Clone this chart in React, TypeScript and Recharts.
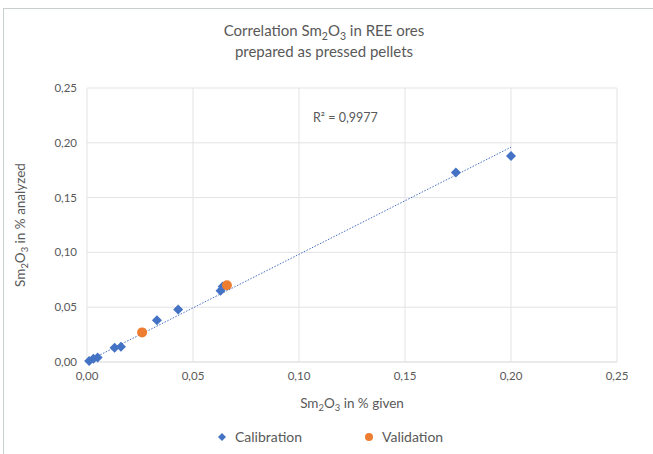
import { CartesianGrid, Scatter, ScatterChart, XAxis, YAxis } from 'recharts';

const calibX = [0.001, 0.003, 0.005, 0.013, 0.016, 0.033, 0.043, 0.063, 0.064, 0.174, 0.2];
const calibY = [0.001, 0.003, 0.004, 0.013, 0.014, 0.038, 0.048, 0.065, 0.069, 0.173, 0.188];
const validX = [0.026, 0.066];
const validY = [0.027, 0.07];
const trendX = [0, 0.2];
const trendY = [0.0005, 0.196];
const ticks = [0, 0.05, 0.1, 0.15, 0.2, 0.25];

const calibration = calibX.map((x, i) => ({ x, y: calibY[i] }));
const validation = validX.map((x, i) => ({ x, y: validY[i] }));
const trend = trendX.map((x, i) => ({ x, y: trendY[i] }));

const BLUE = '#4472c4';
const ORANGE = '#ed7d31';
const TEXT = '#595959';
const FONT = 'Lato, "Open Sans", sans-serif';

const fmt = (v: number) => v.toFixed(2).replace('.', ',');

function Diamond(props: any) {
  const { cx, cy } = props;
  const r = 5;
  return (
    <polygon
      points={`${cx},${cy - r} ${cx + r},${cy} ${cx},${cy + r} ${cx - r},${cy}`}
      fill={BLUE}
    />
  );
}

function Dot(props: any) {
  return <circle cx={props.cx} cy={props.cy} r={5} fill={ORANGE} />;
}

const sub = { fontSize: '0.7em', position: 'relative' as const, top: '0.35em' };
const Sm2O3 = () => (
  <>
    Sm<span style={sub}>2</span>O<span style={sub}>3</span>
  </>
);

export default function App() {
  return (
    <div
      style={{
        position: 'absolute',
        left: 0,
        top: 0,
        width: 653,
        height: 454,
        background: '#fff',
        fontFamily: FONT,
        color: TEXT,
      }}
    >
      <div
        style={{
          position: 'absolute',
          left: 3,
          top: 8,
          width: 660,
          height: 460,
          border: '1px solid #c9cfcc',
          boxSizing: 'border-box',
        }}
      />
      <div
        style={{
          position: 'absolute',
          left: 0,
          width: 648,
          top: 21,
          textAlign: 'center',
          fontSize: 15,
          lineHeight: '19px',
        }}
      >
        <div>
          Correlation <Sm2O3 /> in REE ores
        </div>
        <div>prepared as pressed pellets</div>
      </div>
      <ScatterChart
        width={653}
        height={454}
        margin={{ top: 88, right: 36, bottom: 62, left: 47 }}
        style={{ position: 'absolute', left: 0, top: 0 }}
      >
        <CartesianGrid stroke="#e3e3e3" />
        <XAxis
          type="number"
          dataKey="x"
          domain={[0, 0.25]}
          ticks={ticks}
          tickFormatter={fmt}
          axisLine={{ stroke: '#e3e3e3' }}
          tickLine={false}
          tickMargin={4}
          height={30}
          tick={{ fontSize: 11.5, fill: TEXT, fontFamily: FONT }}
        />
        <YAxis
          type="number"
          dataKey="y"
          domain={[0, 0.25]}
          ticks={ticks}
          tickFormatter={fmt}
          axisLine={false}
          tickLine={false}
          tickMargin={4}
          width={40}
          tick={{ fontSize: 11.5, fill: TEXT, fontFamily: FONT }}
        />
        <Scatter
          data={trend}
          line={{ stroke: BLUE, strokeWidth: 1, strokeDasharray: '1.5 1.5' }}
          shape={() => <g />}
          isAnimationActive={false}
        />
        <Scatter data={calibration} shape={<Diamond />} isAnimationActive={false} />
        <Scatter data={validation} shape={<Dot />} isAnimationActive={false} />
      </ScatterChart>
      <div style={{ position: 'absolute', left: 313, top: 110, fontSize: 12.5 }}>R² = 0,9977</div>
      <div
        style={{
          position: 'absolute',
          left: 87,
          width: 530,
          top: 395,
          textAlign: 'center',
          fontSize: 13.5,
        }}
      >
        <Sm2O3 /> in % given
      </div>
      <div
        style={{
          position: 'absolute',
          left: 20,
          top: 225,
          transform: 'translate(-50%, -50%) rotate(-90deg)',
          whiteSpace: 'nowrap',
          fontSize: 13.5,
        }}
      >
        <Sm2O3 /> in % analyzed
      </div>
      <div
        style={{
          position: 'absolute',
          top: 428,
          left: 217,
          display: 'flex',
          alignItems: 'center',
          fontSize: 14,
        }}
      >
        <span style={{ display: 'flex', alignItems: 'center', gap: 8, width: 147 }}>
          <svg width={10} height={10}>
            <polygon points="5,1 9,5 5,9 1,5" fill={BLUE} />
          </svg>
          Calibration
        </span>
        <span style={{ display: 'flex', alignItems: 'center', gap: 8 }}>
          <svg width={10} height={10}>
            <circle cx={5} cy={5} r={4} fill={ORANGE} />
          </svg>
          Validation
        </span>
      </div>
    </div>
  );
}
